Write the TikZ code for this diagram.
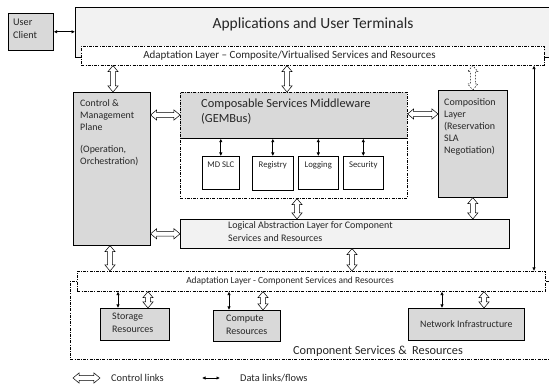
\documentclass[tikz,border=0pt]{standalone}
\usepackage{fontspec}
\setmainfont{Carlito}
\usetikzlibrary{arrows.meta,calc,shapes.arrows}
\definecolor{boxgray}{HTML}{D9D9D9}
\definecolor{palegray}{HTML}{F2F2F2}
\definecolor{txt}{HTML}{262626}
% hollow two-headed control link between two points
\newcommand\ctrllink[3][]{%
  \path let \p1=(#2), \p2=(#3), \n1={veclen(\x2-\x1,\y2-\y1)} in
    (\p1) -- (\p2) node[harrow, midway, sloped, minimum height=\n1, #1] {};}
\begin{document}
\begin{tikzpicture}[x=1pt,y=-1pt,
  box/.style={draw=black, line width=0.6pt, inner sep=0pt, anchor=north west},
  gbox/.style={box, fill=boxgray},
  lbox/.style={box, fill=palegray},
  dashdot/.style={draw=black, line width=0.6pt, dash pattern=on 3pt off 1.2pt on 1pt off 1.2pt},
  dbox/.style={box, dashdot, fill=white},
  harrow/.style={double arrow, draw=black, fill=white, line width=0.5pt,
    inner xsep=0pt, inner ysep=2.2pt, double arrow head extend=2.6pt,
    double arrow head indent=0pt, double arrow tip angle=80, minimum width=1pt},
  data/.style={draw=black, line width=1pt, {Latex[length=3.5pt,width=3.5pt]}-{Latex[length=3.5pt,width=3.5pt]}},
  lbl/.style={text=txt, anchor=north west, align=left, inner sep=0pt, font=\fontsize{9.9}{12}\selectfont},
  small/.style={text=txt, inner sep=0pt, font=\fontsize{8.7}{10}\selectfont}
]
\useasboundingbox (0,0) rectangle (549,387);

% top tier: clients and applications
\node[gbox, minimum width=45pt, minimum height=37pt] (client) at (8,13) {};
\node[lbl, font=\fontsize{10.2}{13}\selectfont] at ([shift={(5,6)}]client.north west) {User\\Client};
\node[lbox, minimum width=480pt, minimum height=50pt] (apps) at (75,7) {};
\node[text=txt, font=\fontsize{15.5}{17}\selectfont] at (313,24) {Applications and User Terminals};
\node[dbox, minimum width=463pt, minimum height=19pt] (adapt1) at (81,46) {};
\node[text=txt, font=\fontsize{11}{12}\selectfont] at (289.5,56) {Adaptation Layer -- Composite/Virtualised Services and Resources};

% control and management plane
\node[gbox, minimum width=77pt, minimum height=153pt] (ctrlp) at (73,92) {};
\node[lbl] at ([shift={(7,7)}]ctrlp.north west) {Control \&\\Management\\Plane\\[10pt](Operation,\\Orchestration)};

% composable services middleware
\node[box, draw=none, fill=boxgray, minimum width=227pt, minimum height=46pt] (gemb) at (180,92) {};
\draw[line width=0.6pt] (gemb.south west) -- (gemb.south east);
\node[box, dashdot, minimum width=227pt, minimum height=106pt] (gembo) at (180,92) {};
\node[lbl, font=\fontsize{12.4}{14.5}\selectfont] at ([shift={(21,7)}]gemb.north west) {Composable Services Middleware\\(GEMBus)};

\node[box, fill=white, minimum width=37pt, minimum height=33pt] (mdslc) at (202,156) {};
\node[box, fill=white, minimum width=41pt, minimum height=34pt] (reg) at (252,156) {};
\node[box, fill=white, minimum width=40pt, minimum height=33pt] (logg) at (298,156) {};
\node[box, fill=white, minimum width=40pt, minimum height=33pt] (secu) at (343,156) {};
\node[small] at ([yshift=-9pt]mdslc.north) {MD SLC};
\node[small] at ([yshift=-9pt]reg.north) {Registry};
\node[small] at ([yshift=-9pt]logg.north) {Logging};
\node[small] at ([yshift=-9pt]secu.north) {Security};

% composition layer
\node[gbox, minimum width=69pt, minimum height=107pt] (comp) at (438,90) {};
\node[lbl, font=\fontsize{10}{12}\selectfont] at ([shift={(6,7)}]comp.north west)
  {\begin{tabular}{@{}l@{}}Composition\\ Layer\\ (Reservation\\ SLA\\ Negotiation)\end{tabular}};

% logical abstraction layer
\node[lbox, minimum width=329pt, minimum height=29pt] (logic) at (180,219) {};
\node[lbl, font=\fontsize{10}{13}\selectfont] at ([shift={(48,2)}]logic.north west) {Logical Abstraction Layer for Component\\Services and Resources};

% component services and resources
\node[box, dashdot, minimum width=485pt, minimum height=78pt] (csr) at (70,281) {};
\node[dbox, minimum width=468pt, minimum height=20pt] (adapt2) at (77,271) {};
\node[text=txt, font=\fontsize{9.4}{11}\selectfont] at (290,281) {Adaptation Layer - Component Services and Resources};
\node[text=txt, font=\fontsize{12.3}{14}\selectfont] at (378,351) {Component Services \&\ \ Resources};

\node[gbox, minimum width=69pt, minimum height=32pt] (stor) at (100,308) {};
\node[lbl, font=\fontsize{10}{12.5}\selectfont] at ([shift={(12,5)}]stor.north west) {Storage\\Resources};
\node[gbox, minimum width=67pt, minimum height=31pt] (compu) at (213,310) {};
\node[lbl, font=\fontsize{10}{12.5}\selectfont] at ([shift={(13,5)}]compu.north west) {Compute\\Resources};
\node[gbox, minimum width=116pt, minimum height=32pt] (net) at (408,308) {};
\node[text=txt, font=\fontsize{9.9}{11}\selectfont] at (net.center) {Network Infrastructure};

% connectors
\draw[data] (client.east) -- (client.east -| apps.west);
\ctrllink{adapt1.south -| 113,0}{ctrlp.north -| 113,0}
\ctrllink{adapt1.south -| 287,0}{gembo.north -| 287,0}
\ctrllink[dash pattern=on 1.5pt off 1.5pt]{adapt1.south -| comp.north}{comp.north}
\ctrllink{ctrlp.east |- 0,115}{gembo.west |- 0,115}
\ctrllink{gembo.east |- 0,114}{comp.west |- 0,114}
\foreach \b in {mdslc,reg,logg,secu}
  \draw[data] (gemb.south -| \b.north) -- (\b.north);
\ctrllink{gembo.south -| 297,0}{logic.north -| 297,0}
\ctrllink{comp.south}{logic.north -| comp.south}
\ctrllink{ctrlp.east |- logic.west}{logic.west}
\ctrllink{ctrlp.south -| 110,0}{adapt2.north -| 110,0}
\ctrllink{logic.south -| 352,0}{adapt2.north -| 352,0}
\draw[data] (adapt1.south -| 534,0) -- (adapt2.north -| 534,0);
\draw[data] (adapt2.south -| 118,0) -- (stor.north -| 118,0);
\ctrllink{adapt2.south -| 148,0}{stor.north -| 148,0}
\draw[data] (adapt2.south -| 229,0) -- (compu.north -| 229,0);
\ctrllink{adapt2.south -| 263,0}{compu.north -| 263,0}
\draw[data] (adapt2.south -| 442,0) -- (net.north -| 442,0);
\ctrllink{adapt2.south -| 484,0}{net.north -| 484,0}

% legend
\coordinate (c1) at (73,378);
\coordinate (c2) at (100,378);
\coordinate (d1) at (202,378);
\coordinate (d2) at (220,378);
\ctrllink{c1}{c2}
\draw[data] (d1) -- (d2);
\node[text=txt, anchor=west, inner sep=0pt, font=\fontsize{10.4}{12}\selectfont] at (111,378) {Control links};
\node[text=txt, anchor=west, inner sep=0pt, font=\fontsize{10.4}{12}\selectfont] at (240,378) {Data links/flows};
\end{tikzpicture}
\end{document}
